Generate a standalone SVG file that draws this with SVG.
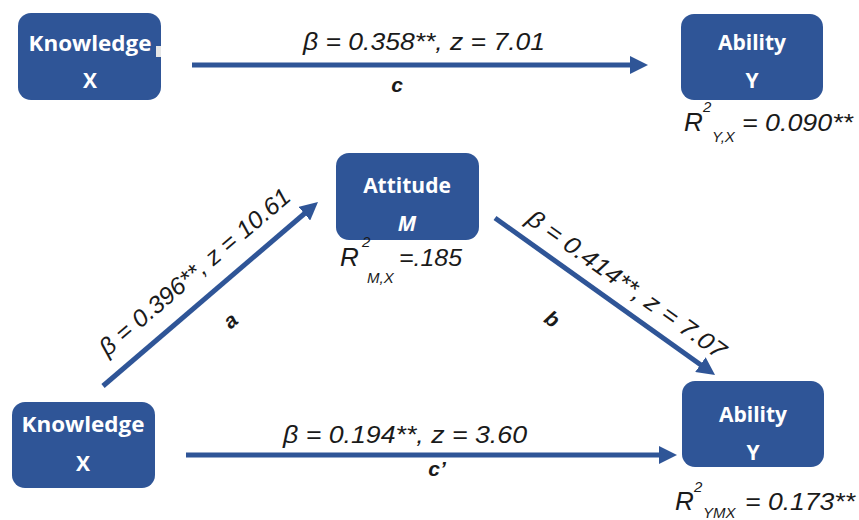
<svg xmlns="http://www.w3.org/2000/svg" width="859" height="520" viewBox="0 0 859 520">
<defs>
<marker id="ah" markerUnits="userSpaceOnUse" markerWidth="18" markerHeight="18" refX="8" refY="9" orient="auto">
<path d="M0,0 L18,9 L0,18 z" fill="#2F5597"/>
</marker>
<style>
.box{fill:#2F5597;}
.bl{font-family:"Open Sans","Liberation Sans",sans-serif;font-weight:bold;font-size:21px;fill:#ffffff;text-anchor:middle;}
.edge{stroke:#2F5597;stroke-width:5;fill:none;marker-end:url(#ah);}
.lab{font-family:"Liberation Sans",Arial,sans-serif;font-style:italic;font-size:24px;fill:#1a1a1a;}
.let{font-family:"Liberation Sans",Arial,sans-serif;font-style:italic;font-weight:bold;font-size:21px;fill:#1a1a1a;text-anchor:middle;}
.r{font-family:"Liberation Sans",Arial,sans-serif;font-style:italic;font-size:24px;fill:#1a1a1a;}
.rr{font-family:"Liberation Sans",Arial,sans-serif;font-style:italic;font-size:26px;fill:#1a1a1a;}
.sup{font-family:"Liberation Sans",Arial,sans-serif;font-style:italic;font-size:15px;fill:#1a1a1a;}
</style>
</defs>
<rect width="859" height="520" fill="#ffffff"/>

<g id="knowledge-top">
<rect class="box" x="18" y="13" width="143" height="87" rx="13"/>
<rect x="156" y="46" width="5" height="11" fill="#e6e6e6"/>
<text class="bl" x="90" y="51" textLength="123" lengthAdjust="spacingAndGlyphs">Knowledge</text>
<text class="bl" x="90" y="88">X</text>
</g>

<g id="ability-top">
<rect class="box" x="681" y="14" width="142" height="86" rx="13"/>
<text class="bl" x="752" y="50">Ability</text>
<text class="bl" x="752" y="88">Y</text>
<text class="rr" x="684" y="131">R</text>
<text class="sup" x="703" y="112">2</text>
<text class="sup" x="712" y="142">Y,X</text>
<text class="r" x="742" y="131" textLength="111" lengthAdjust="spacingAndGlyphs">= 0.090**</text>
</g>

<g id="attitude">
<rect class="box" x="336" y="153" width="143" height="87" rx="13"/>
<text class="bl" x="407" y="193">Attitude</text>
<text class="bl" x="407" y="231" font-style="italic">M</text>
<text class="rr" x="340" y="266">R</text>
<text class="sup" x="362" y="247">2</text>
<text class="sup" x="367" y="283">M,X</text>
<text class="r" x="399" y="266" textLength="63" lengthAdjust="spacingAndGlyphs">=.185</text>
</g>

<g id="knowledge-bottom">
<rect class="box" x="12" y="402" width="143" height="86" rx="13"/>
<text class="bl" x="83" y="432" textLength="123" lengthAdjust="spacingAndGlyphs">Knowledge</text>
<text class="bl" x="83" y="471">X</text>
</g>

<g id="ability-bottom">
<rect class="box" x="682" y="381" width="142" height="86" rx="13"/>
<text class="bl" x="753" y="422">Ability</text>
<text class="bl" x="753" y="460">Y</text>
<text class="rr" x="675" y="510">R</text>
<text class="sup" x="694" y="492">2</text>
<text class="sup" x="703" y="518">YMX</text>
<text class="r" x="745" y="510" textLength="110" lengthAdjust="spacingAndGlyphs">= 0.173**</text>
</g>

<g id="connectors">
<line class="edge" x1="192" y1="65" x2="638" y2="65"/>
<line class="edge" x1="186" y1="455" x2="667" y2="455"/>
<line class="edge" x1="103" y1="386" x2="310.4" y2="208.5"/>
<line class="edge" x1="495" y1="218" x2="706.9" y2="369.2"/>
<text class="lab" x="303" y="50" textLength="242" lengthAdjust="spacingAndGlyphs">β = 0.358**, z = 7.01</text>
<text class="let" x="397" y="92">c</text>
<text class="lab" x="283" y="443" textLength="244" lengthAdjust="spacingAndGlyphs">β = 0.194**, z = 3.60</text>
<text class="let" x="437" y="476" font-style="normal">c’</text>
<text class="lab" x="200" y="278" text-anchor="middle" textLength="243" lengthAdjust="spacingAndGlyphs" transform="rotate(-40.5 200 278)">β = 0.396**, z = 10.61</text>
<text class="let" x="235" y="326" transform="rotate(-40 235 326)">a</text>
<text class="lab" x="622" y="291" text-anchor="middle" textLength="238" lengthAdjust="spacingAndGlyphs" transform="rotate(35.5 622 291)">β = 0.414**, z = 7.07</text>
<text class="let" x="548" y="325" transform="rotate(35 548 325)">b</text>
</g>
</svg>
